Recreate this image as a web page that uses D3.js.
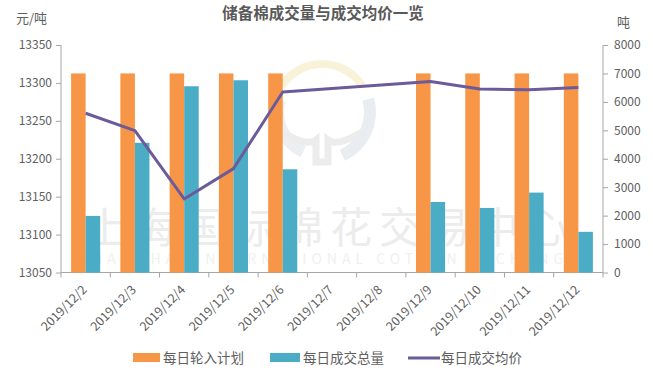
<!DOCTYPE html>
<html>
<head>
<meta charset="utf-8">
<script src="https://cdn.jsdelivr.net/npm/d3@7"></script>
<style>
body { margin:0; background:#fff; font-family:"Noto Sans CJK SC","Noto Sans",sans-serif; }
.axis path, .axis line { stroke:#a6a6a6; }
.axis text { fill:#606060; font-size:12px; font-family:"Noto Sans CJK SC",sans-serif; }
</style>
</head>
<body>
<svg id="chart" width="653" height="371"></svg>
<script>
var dates = ["2019/12/2","2019/12/3","2019/12/4","2019/12/5","2019/12/6","2019/12/7",
             "2019/12/8","2019/12/9","2019/12/10","2019/12/11","2019/12/12"];
var plan = [7000,7000,7000,7000,7000,null,null,7000,7000,7000,7000];
var volume = [1990,4560,6550,6760,3630,null,null,2480,2270,2810,1430];
var price = [13260,13237,13147,13187,13288,null,null,13302,13292,13291,13294];
var leftTicks = [13050,13100,13150,13200,13250,13300,13350];
var rightTicks = [0,1000,2000,3000,4000,5000,6000,7000,8000];

var orange = "#f79646", blue = "#4bacc6", purple = "#6b5b9b";
var plotL = 61, plotR = 603, plotT = 45, plotB = 272.5;

var svg = d3.select("#chart");

var x = d3.scaleBand().domain(dates).range([plotL, plotR]);
var yL = d3.scaleLinear().domain([13050,13350]).range([plotB, plotT]);
var yR = d3.scaleLinear().domain([0,8000]).range([plotB, plotT]);
var bw = x.bandwidth()*0.295;

// watermark: faint logo and name
var arc = d3.arc();
var logo = svg.append("g").attr("transform", "translate(322,112)").attr("fill", "none");
logo.append("path").attr("d", arc({innerRadius:44, outerRadius:52, startAngle:-1.0, endAngle:1.0}))
.attr("fill", "#f8f3d8");
logo.append("path").attr("d", arc({innerRadius:38, outerRadius:50, startAngle:-2.7, endAngle:-1.3}))
.attr("fill", "#eceef2");
logo.append("path").attr("d", arc({innerRadius:42, outerRadius:54, startAngle:1.3, endAngle:2.7}))
.attr("fill", "#e9ecf0");
logo.append("path").attr("d", "M-40,20 Q-15,35 -6,28 L-6,50 L6,50 L6,28 Q15,35 40,20")
.attr("stroke", "#ececec").attr("stroke-width", 7);

var wm = svg.append("g").attr("fill", "#ececec");
wm.append("text").attr("x", 330).attr("y", 243).attr("text-anchor", "middle")
.style("font-size", "42px").style("letter-spacing", "7px").text("上海国际棉花交易中心");
wm.append("text").attr("x", 330).attr("y", 264).attr("text-anchor", "middle")
.attr("fill", "#f0f0f0")
.style("font-size", "14px").style("letter-spacing", "5px").text("SHANGHAI INTERNATIONAL COTTON EXCHANGE");

svg.append("text").attr("x", 323).attr("y", 19).attr("text-anchor", "middle")
.attr("fill", "#595959").style("font-size", "15.5px").style("font-weight", "bold")
.text("储备棉成交量与成交均价一览");
svg.append("text").attr("x", 16).attr("y", 23).attr("fill", "#606060")
.style("font-size", "13px").text("元/吨");
svg.append("text").attr("x", 617).attr("y", 27).attr("fill", "#606060")
.style("font-size", "13px").text("吨");

var gL = svg.append("g").attr("class", "axis")
.attr("transform", "translate(" + plotL + ",0)")
.call(d3.axisLeft(yL).tickValues(leftTicks).tickSize(5).tickPadding(4).tickFormat(d3.format("d")));
var gR = svg.append("g").attr("class", "axis")
.attr("transform", "translate(" + plotR + ",0)")
.call(d3.axisRight(yR).tickValues(rightTicks).tickSize(5).tickPadding(6).tickFormat(d3.format("d")));
gL.select(".domain").attr("d", "M0," + plotT + "V" + plotB);
gR.select(".domain").attr("d", "M0," + plotT + "V" + plotB);

var gX = svg.append("g").attr("class", "axis")
.attr("transform", "translate(0," + plotB + ")")
.call(d3.axisBottom(x).tickSize(0).tickPadding(8));
gX.select(".domain").attr("d", "M" + plotL + ",0H" + plotR);
gX.selectAll(".tick text")
.attr("text-anchor", "end")
.attr("x", 0).attr("y", 0).attr("dy", 0)
.attr("transform", "translate(2,18) rotate(-45)")
.style("font-size", "12.5px");
gX.selectAll("line.sep").data(d3.range(dates.length + 1)).enter()
.append("line").attr("class", "sep")
.attr("x1", function(i) { return plotL + i*x.step(); })
.attr("x2", function(i) { return plotL + i*x.step(); })
.attr("y1", 0).attr("y2", 5);

var bars = svg.append("g");
bars.selectAll("rect.plan").data(dates.filter(function(d, i) { return plan[i] != null; }))
.enter().append("rect").attr("class", "plan")
.attr("x", function(d) { return x(d) + x.bandwidth()/2 - bw; })
.attr("width", bw)
.attr("y", function(d) { return yR(plan[dates.indexOf(d)]); })
.attr("height", function(d) { return plotB - yR(plan[dates.indexOf(d)]); })
.attr("fill", orange);
bars.selectAll("rect.vol").data(dates.filter(function(d, i) { return volume[i] != null; }))
.enter().append("rect").attr("class", "vol")
.attr("x", function(d) { return x(d) + x.bandwidth()/2; })
.attr("width", bw)
.attr("y", function(d) { return yR(volume[dates.indexOf(d)]); })
.attr("height", function(d) { return plotB - yR(volume[dates.indexOf(d)]); })
.attr("fill", blue);

var pts = dates.map(function(d, i) { return [d, price[i]]; })
.filter(function(p) { return p[1] != null; });
var line = d3.line()
.x(function(p) { return x(p[0]) + x.bandwidth()/2; })
.y(function(p) { return yL(p[1]); });
svg.append("path").datum(pts)
.attr("d", line)
.attr("fill", "none").attr("stroke", purple)
.attr("stroke-width", 3).attr("stroke-linejoin", "round");

// legend
var legend = svg.append("g").style("font-size", "13.5px").attr("fill", "#606060");
legend.append("rect").attr("x", 133).attr("y", 353).attr("width", 27).attr("height", 9).attr("fill", orange);
legend.append("text").attr("x", 163).attr("y", 363).text("每日轮入计划");
legend.append("rect").attr("x", 270).attr("y", 353).attr("width", 30).attr("height", 9).attr("fill", blue);
legend.append("text").attr("x", 303).attr("y", 363).text("每日成交总量");
legend.append("line").attr("x1", 408).attr("x2", 440).attr("y1", 358).attr("y2", 358)
.attr("stroke", purple).attr("stroke-width", 3);
legend.append("text").attr("x", 441).attr("y", 363).text("每日成交均价");
</script>
</body>
</html>
